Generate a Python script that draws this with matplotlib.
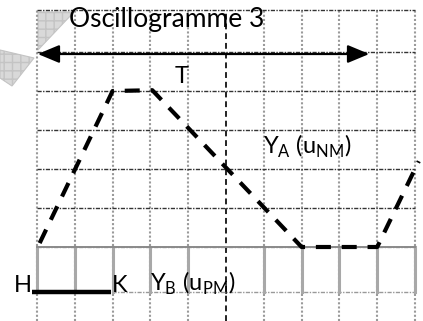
import matplotlib.pyplot as plt
from matplotlib.patches import Polygon

# grid in divisions (x: time, y: volts/div), y=0 is the trace baseline
x_lines = [0, 1, 2, 3, 4, 6, 7, 8, 9, 10]
y_lines = [6.08, 5, 4, 3, 2, 1, 0, -1.15]

# Y_A trace (u_NM)
ya_x = [0.07, 2.0, 3.05, 7.0, 9.0, 10.1]
ya_y = [0.1, 4.0, 4.02, 0.0, 0.0, 2.2]

# Y_B trace (u_PM): flat line, H..K segment
yb_x = [-0.13, 1.96]
yb_y = [-1.15, -1.15]

# pixel -> division helpers for the page layout
PX0, PY0, SX, SY = 37.0, 247.0, 37.8, 39.0


def px(x, y):
    return (x - PX0) / SX, (PY0 - y) / SY


plt.rcParams['font.family'] = ['Lato', 'DejaVu Sans']

fig = plt.figure(figsize=(4.23, 3.21), dpi=100)
ax = fig.add_axes([0, 0, 1, 1])
x0, y0 = px(0, 321)
x1, y1 = px(423, 0)
ax.set_xlim(x0, x1)
ax.set_ylim(y0, y1)
ax.axis('off')

# faded watermark in the corner
for pts in ([(38, 12), (74, 12), (38, 50)], [(0, 50), (34, 58), (12, 86), (0, 78)]):
    ax.add_patch(Polygon([px(a, b) for a, b in pts], closed=True,
                         facecolor='#d9d9d9', edgecolor='#c4c4c4', hatch='++', lw=0.8))

# grid
for x in x_lines:
    ax.plot([x, x], [y0, y_lines[0]], color='#9a9a9a', lw=1.5, ls=(0, (1, 1)), zorder=1)
for y in y_lines:
    c = '#333333' if y > 0 else '#999999'
    ax.plot([0, 10], [y, y], color=c, lw=1.0, ls=(0, (3, 1, 1, 1)), zorder=1)

# center dashed line
ax.plot([5, 5], [y0, y_lines[0]], color='#222222', lw=1.4, ls=(0, (3, 2)), zorder=2)

# Y_B zone: grey solid ticks and baseline
for x in x_lines:
    ax.plot([x, x], [0, -1.15], color='#a8a8a8', lw=2.2, zorder=2)
ax.plot([0, 10], [0, 0], color='#8a8a8a', lw=1.4, zorder=2)
ax.plot(yb_x, yb_y, color='black', lw=3.2, solid_capstyle='butt', zorder=4)

# Y_A trace
ax.plot(ya_x, ya_y, color='black', lw=3.0, dashes=(3.6, 2.6), zorder=4)

# period arrow
ax.annotate('', xy=px(35, 54), xytext=px(372, 54),
            arrowprops=dict(arrowstyle='<|-|>,head_length=0.6,head_width=0.25',
                            color='black', lw=1.6, mutation_scale=22), zorder=5)

ax.text(*px(167, 20), 'Oscillogramme 3', fontsize=19, ha='center', va='center', zorder=6)
ax.text(*px(182, 77), 'T', fontsize=17, ha='center', va='center', zorder=6)
ax.text(*px(263, 146), r'Y$_\mathregular{A}$ (u$_\mathregular{NM}$)', fontsize=17,
        ha='left', va='center', zorder=6)
ax.text(*px(150, 283), r'Y$_\mathregular{B}$ (u$_\mathregular{PM}$)', fontsize=17,
        ha='left', va='center', zorder=6)
ax.text(*px(23, 286), 'H', fontsize=17, ha='center', va='center', zorder=6)
ax.text(*px(120, 286), 'K', fontsize=17, ha='center', va='center', zorder=6)

fig.savefig('out.png', dpi=100)
